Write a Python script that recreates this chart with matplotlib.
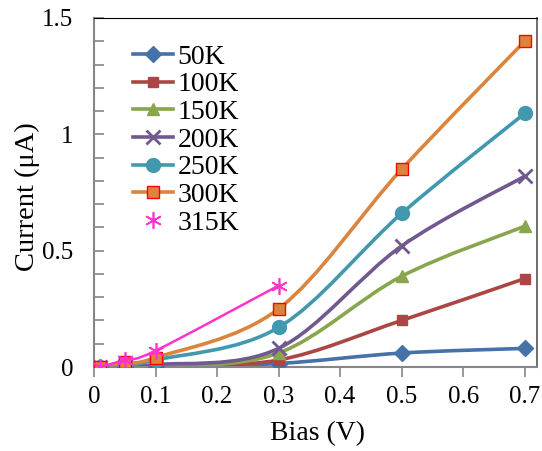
import matplotlib.pyplot as plt
import numpy as np
from matplotlib.path import Path
from matplotlib.patches import PathPatch
from matplotlib.lines import Line2D

plt.rcParams['font.family'] = ['Liberation Serif', 'DejaVu Serif']

bias = [0.01, 0.05, 0.1, 0.3, 0.5, 0.7]
temps = ['50K', '100K', '150K', '200K', '250K', '300K']
cur_50 = [0.0, 0.0, 0.0, 0.015, 0.06, 0.08]
cur_100 = [0.0, 0.005, 0.005, 0.03, 0.2, 0.38]
cur_150 = [0.0, 0.0, 0.0, 0.06, 0.39, 0.605]
cur_200 = [0.0, 0.005, 0.01, 0.08, 0.52, 0.82]
cur_250 = [0.0, 0.01, 0.03, 0.17, 0.66, 1.09]
cur_300 = [0.0, 0.02, 0.04, 0.25, 0.85, 1.4]
bias_315 = [0.01, 0.05, 0.1, 0.3]
cur_315 = [0.0, 0.03, 0.07, 0.35]

colors = ['#4572A7', '#AA4643', '#89A54E', '#71588F', '#4198AF', '#DB843D']
markers = ['D', 's', '^', 'x', 'o', 's']
msizes = [8, 7, 9, 10, 10, 9]
pink = '#FF33CC'


def smooth_path(x, y):
    # excel-like smoothed line: catmull-rom segments as cubic bezier
    p = np.column_stack([x, y])
    n = len(p)
    verts = [p[0]]
    codes = [Path.MOVETO]
    for i in range(n - 1):
        p0 = p[max(i - 1, 0)]
        p1 = p[i]
        p2 = p[i + 1]
        p3 = p[min(i + 2, n - 1)]
        c1 = p1 + (p2 - p0) / 6
        c2 = p2 - (p3 - p1) / 6
        verts += [c1, c2, p2]
        codes += [Path.CURVE4] * 3
    return Path(verts, codes)


fig = plt.figure(figsize=(5.42, 4.51), dpi=100)
ax = fig.add_axes([94 / 542, 84 / 451, 443 / 542, 349 / 451])

series = [cur_50, cur_100, cur_150, cur_200, cur_250, cur_300]
handles = []
for vals, c, m, ms, lab in zip(series, colors, markers, msizes, temps):
    ax.add_patch(PathPatch(smooth_path(bias, vals), fill=False,
                           edgecolor=c, lw=2.6, zorder=2))
    mec = 'red' if lab == '300K' else c
    mew = 2 if m == 'x' else 1
    ax.plot(bias, vals, ls='none', marker=m, ms=ms, color=c,
            mec=mec, mew=mew, zorder=3)
    handles.append(Line2D([], [], color=c, lw=2.6, marker=m, ms=ms,
                          mec=mec, mew=mew, label=lab))

ax.add_patch(PathPatch(smooth_path(bias_315, cur_315), fill=False,
                       edgecolor=pink, lw=1.8, zorder=4))
ax.plot(bias_315, cur_315, ls='none', marker=(6, 2, 0), ms=12,
        color=pink, mew=1.2, zorder=5)
handles.append(Line2D([], [], ls='none', marker=(6, 2, 0), ms=12,
                      color=pink, mew=1.2, label='315K'))

ax.set_xlim(0, 0.72)
ax.set_ylim(0, 1.5)
ax.set_xticks(np.arange(0, 0.71, 0.1))
ax.set_xticklabels(['0', '0.1', '0.2', '0.3', '0.4', '0.5', '0.6', '0.7'])
ax.set_yticks([0, 0.5, 1.0, 1.5])
ax.set_yticklabels(['0', '0.5', '1', '1.5'])
ax.set_yticks(np.arange(0, 1.51, 0.1), minor=True)

ax.tick_params(axis='x', direction='out', length=7, width=1.2,
               color='#868686', labelsize=18, pad=7)
ax.tick_params(axis='y', which='both', direction='in', length=7,
               width=1.2, color='#868686', labelsize=18, pad=15)
for s in ['left', 'bottom']:
    ax.spines[s].set_color('#868686')
    ax.spines[s].set_linewidth(1.5)
ax.spines['top'].set_color('black')
ax.spines['right'].set_color('#555555')
ax.spines['right'].set_linewidth(1.2)
for lab in ax.get_xticklabels() + ax.get_yticklabels():
    lab.set_clip_on(False)

ax.legend(handles=handles, loc='upper left', bbox_to_anchor=(0.088, 0.925),
          frameon=False, fontsize=20, handlelength=1.45, handletextpad=0.15,
          labelspacing=0.08, borderaxespad=0, borderpad=0)

fig.text(27 / 542, 1 - 197 / 451, 'Current (\u03bcA)', rotation=90,
         ha='center', va='center', fontsize=20.5)
fig.text(318 / 542, 1 - 434 / 451, 'Bias (V)', ha='center', va='center',
         fontsize=20)

fig.savefig('out.png', dpi=100)
